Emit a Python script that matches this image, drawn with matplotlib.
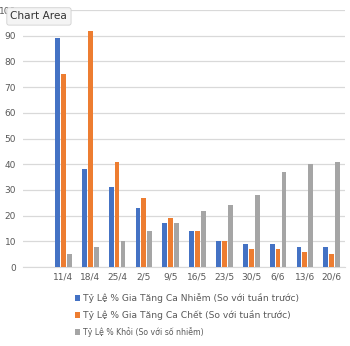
import matplotlib
matplotlib.use("Agg")
import matplotlib.pyplot as plt
import numpy as np

categories = ["", "11/4", "18/4", "25/4", "2/5", "9/5", "16/5", "23/5", "30/5", "6/6", "13/6", "20/6"]
nhiem = [np.nan, 89, 38, 31, 23, 17, 14, 10, 9, 9, 8, 8]
chet = [np.nan, 75, 92, 41, 27, 19, 14, 10, 7, 7, 6, 5]
khoi = [np.nan, 5, 8, 10, 14, 17, 22, 24, 28, 37, 40, 41]
labels = ["Tỷ Lệ % Gia Tăng Ca Nhiễm (So với tuần trước)",
          "Tỷ Lệ % Gia Tăng Ca Chết (So với tuần trước)",
          "Tỷ Lệ % Khỏi (So với số nhiễm)"]
colors = ["#4472C4", "#ED7D31", "#A5A5A5"]

plt.rcParams['font.family'] = ['DejaVu Sans']
fig = plt.figure(figsize=(3.5, 3.46), dpi=100)
ax = fig.add_axes([0.066, 0.228, 0.92, 0.743])

x = np.arange(len(categories))
w = 0.18
off = 0.22
bars = []
for i, (vals, c, lab) in enumerate(zip([nhiem, chet, khoi], colors, labels)):
    b = ax.bar(x + (i - 1) * off, vals, width=w, color=c, label=lab, zorder=3)
    bars.append(b)

ax.set_xlim(-0.5, len(categories) - 0.5)
ax.set_ylim(0, 100)
ax.set_yticks(np.arange(0, 101, 10))
ax.set_xticks(x)
ax.set_xticklabels(categories)
ax.grid(axis='y', color='#D9D9D9', linewidth=0.9, zorder=0)
for s in ['top', 'right', 'left']:
    ax.spines[s].set_visible(False)
ax.spines['bottom'].set_color('#D9D9D9')
ax.tick_params(axis='both', length=0, labelsize=6.5, colors='#595959')
ax.tick_params(axis='y', pad=5)
ax.tick_params(axis='x', pad=4)

leg = fig.legend(handles=bars, labels=labels, loc='upper left',
                 bbox_to_anchor=(0.2, 0.165), frameon=False,
                 fontsize=6.6, handlelength=0.6, handleheight=0.6,
                 handletextpad=0.3, labelspacing=0.75, borderpad=0)
for t in leg.get_texts():
    t.set_color('#595959')
leg.get_texts()[2].set_fontsize(5.6)

fig.text(0.03, 0.967, "Chart Area", fontsize=7.6, color='#333333', va='top', ha='left',
         zorder=10,
         bbox=dict(boxstyle='round,pad=0.35,rounding_size=0.2', facecolor='#F4F4F4',
                   edgecolor='#D0D0D0', linewidth=0.6))

fig.savefig("out.png", dpi=100)
